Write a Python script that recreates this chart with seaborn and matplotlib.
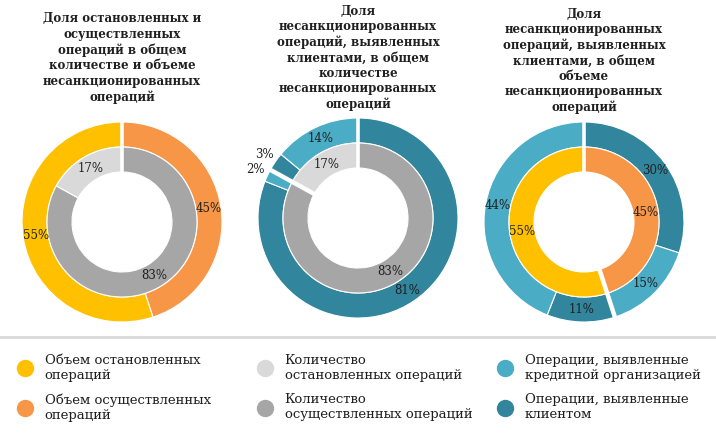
"""Три кольцевые диаграммы по несанкционированным операциям."""

import matplotlib.pyplot as plt
import numpy as np
import seaborn as sns
from matplotlib.lines import Line2D

YELLOW = "#FFC000"
ORANGE = "#F79646"
LIGHT_GRAY = "#D9D9D9"
GRAY = "#A6A6A6"
LIGHT_TEAL = "#4BACC6"
DARK_TEAL = "#31859C"
TEXT = "#1F1F1F"

# значения, %
volume_share = [45, 55]              # осуществленные / остановленные (объем)
count_share = [83, 17]               # осуществленные / остановленные (количество)
client_count_share = [81, 2, 3, 14]  # клиент / КО / клиент / КО (количество)
client_volume_share = [30, 15, 11, 44]

titles = [
    "Доля остановленных и\nосуществленных\nопераций в общем\nколичестве и объеме\nнесанкционированных\nопераций",
    "Доля\nнесанкционированных\nопераций, выявленных\nклиентами, в общем\nколичестве\nнесанкционированных\nопераций",
    "Доля\nнесанкционированных\nопераций, выявленных\nклиентами, в общем\nобъеме\nнесанкционированных\nопераций",
]

legend_labels = [
    "Объем остановленных\nопераций",
    "Объем осуществленных\nопераций",
    "Количество\nостановленных операций",
    "Количество\nосуществленных операций",
    "Операции, выявленные\nкредитной организацией",
    "Операции, выявленные\nклиентом",
]
legend_colors = [YELLOW, ORANGE, LIGHT_GRAY, GRAY, LIGHT_TEAL, DARK_TEAL]

charts = [
    {
        "outer": volume_share, "outer_colors": [ORANGE, YELLOW],
        "inner": count_share, "inner_colors": [GRAY, LIGHT_GRAY],
        "split": False, "center": (122, 222), "title_y": 58,
    },
    {
        "outer": client_count_share,
        "outer_colors": [DARK_TEAL, LIGHT_TEAL, DARK_TEAL, LIGHT_TEAL],
        "inner": count_share, "inner_colors": [GRAY, LIGHT_GRAY],
        "split": True, "center": (358, 218), "title_y": 58,
    },
    {
        "outer": client_volume_share,
        "outer_colors": [DARK_TEAL, LIGHT_TEAL, DARK_TEAL, LIGHT_TEAL],
        "inner": volume_share, "inner_colors": [ORANGE, YELLOW],
        "split": True, "center": (584, 222), "title_y": 61,
    },
]

sns.set_theme(style="white")
plt.rcParams["font.family"] = ["DejaVu Serif", "DejaVu Sans"]

W, H = 716, 440
fig = plt.figure(figsize=(W / 100, H / 100), dpi=100)
RADIUS = 100


def label_ring(ax, wedges, values, radius, small_radius=None):
    for wedge, value in zip(wedges, values):
        ang = np.deg2rad((wedge.theta1 + wedge.theta2) / 2)
        r = radius
        if small_radius is not None and value < 5:
            r = small_radius
        ax.text(r * np.cos(ang), r * np.sin(ang), f"{value}%",
                ha="center", va="center", fontsize=8.5, color=TEXT)


for chart, title in zip(charts, titles):
    cx, cy = chart["center"]
    ax = fig.add_axes([(cx - RADIUS) / W, 1 - (cy + RADIUS) / H,
                       2 * RADIUS / W, 2 * RADIUS / H])
    wp = {"width": 0.25, "edgecolor": "white", "linewidth": 0.8}
    outer, _ = ax.pie(chart["outer"], colors=chart["outer_colors"], radius=1.0,
                      startangle=90, counterclock=False, wedgeprops=wp)
    inner, _ = ax.pie(chart["inner"], colors=chart["inner_colors"], radius=0.75,
                      startangle=90, counterclock=False, wedgeprops=wp)
    label_ring(ax, outer, chart["outer"], 0.875, small_radius=1.13)
    label_ring(ax, inner, chart["inner"], 0.625)

    # белые разрезы: сверху и (для 2 и 3) по границе внутреннего кольца
    gaps = [0.0]
    if chart["split"]:
        gaps.append(chart["inner"][0] / sum(chart["inner"]))
    for i, frac in enumerate(gaps):
        ang = np.pi / 2 - 2 * np.pi * frac
        ax.plot([0.45 * np.cos(ang), 1.05 * np.cos(ang)],
                [0.45 * np.sin(ang), 1.05 * np.sin(ang)],
                color="white", lw=2.6 if i == 0 else 3.2,
                solid_capstyle="butt", zorder=5)
    ax.set_xlim(-1, 1)
    ax.set_ylim(-1, 1)
    ax.set_aspect("equal")
    ax.axis("off")

    fig.text(cx / W, 1 - chart["title_y"] / H, title, ha="center", va="center",
             fontsize=8.5, fontweight="bold", color=TEXT, linespacing=1.24)

# разделитель над легендой
fig.add_artist(Line2D([0.0, 1.0], [1 - 337 / H, 1 - 337 / H],
                      transform=fig.transFigure, color="#D9D9D9", lw=2))

legend_x = [17, 257, 497]
for col, x in enumerate(legend_x):
    idx = [2 * col, 2 * col + 1]
    handles = [
        Line2D([], [], marker="o", linestyle="", markersize=11.5,
               markerfacecolor=legend_colors[i], markeredgecolor=legend_colors[i])
        for i in idx
    ]
    fig.legend(handles, [legend_labels[i] for i in idx],
               loc="upper left", bbox_to_anchor=(x / W, 1 - 354 / H),
               frameon=False, fontsize=9.5, handlelength=1.2,
               handletextpad=0.9, labelspacing=0.85, borderpad=0,
               borderaxespad=0, labelcolor=TEXT)

fig.savefig("out.png", dpi=100)
